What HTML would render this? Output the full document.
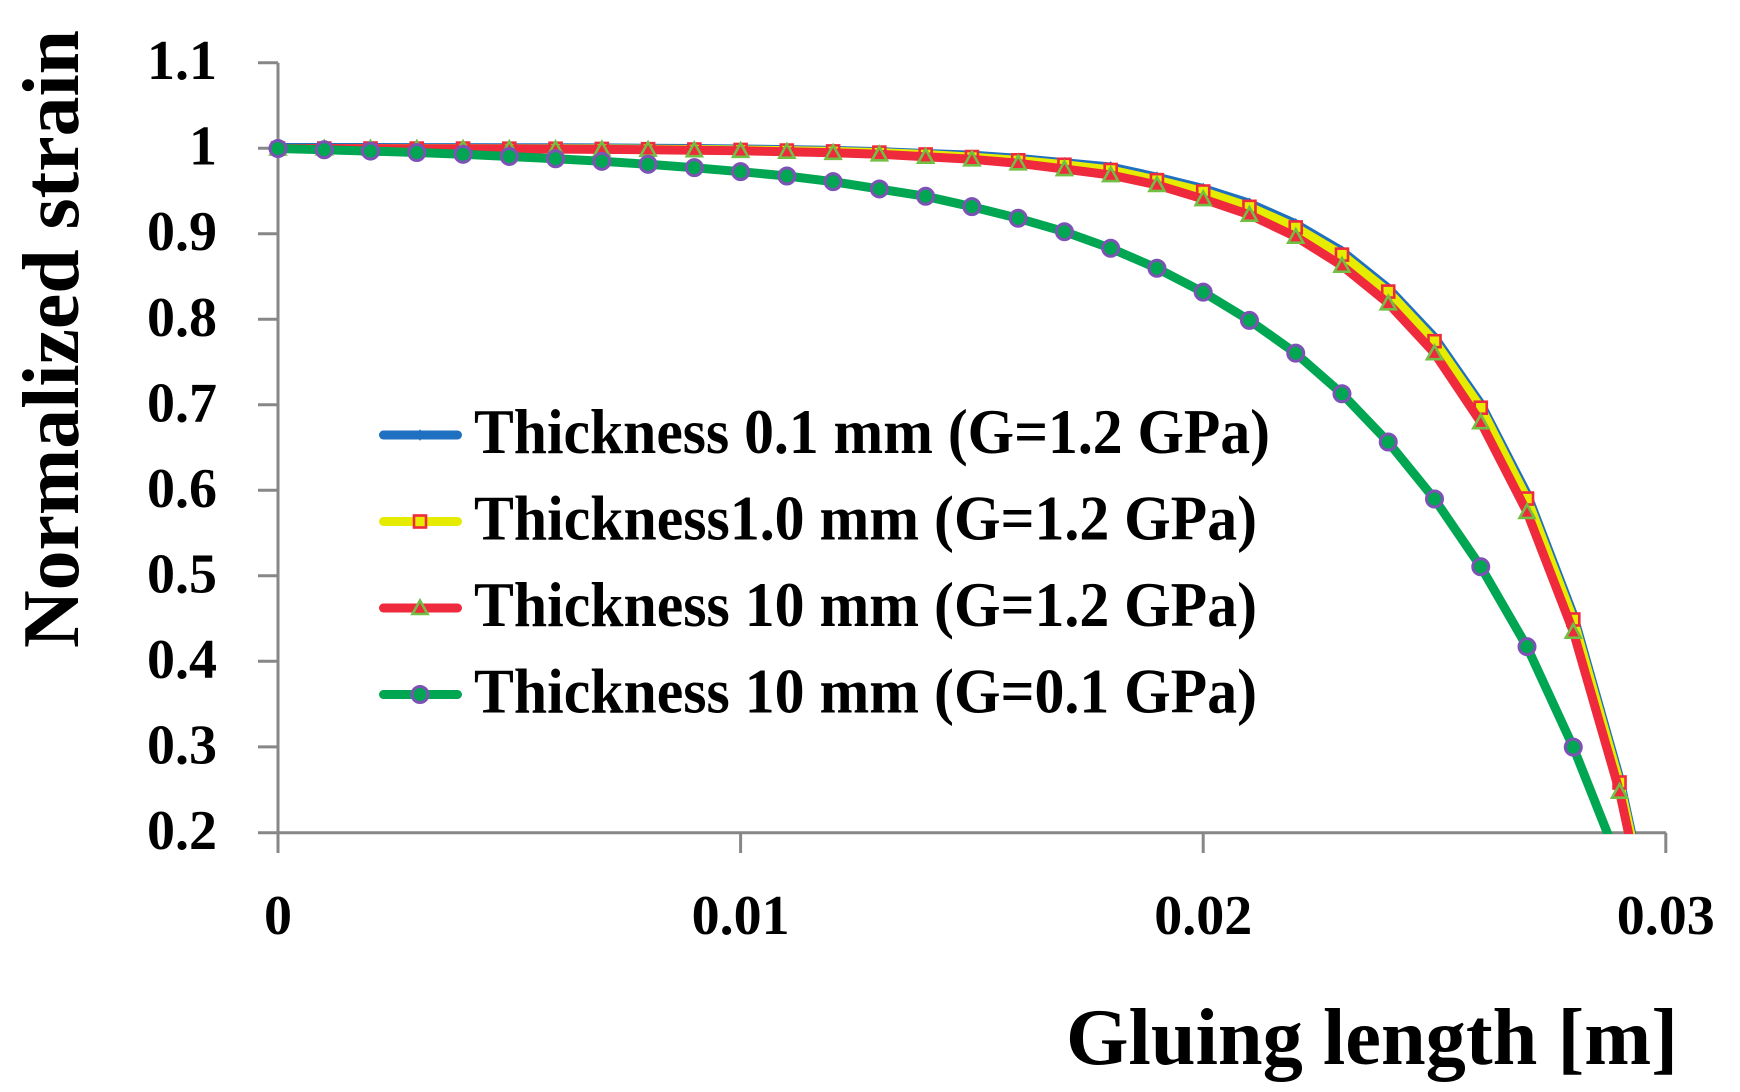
<!DOCTYPE html>
<html>
<head>
<meta charset="utf-8">
<style>
  html,body{margin:0;padding:0;background:#fff;}
  svg{display:block;}
  text{font-family:"Liberation Serif","DejaVu Serif",serif;font-weight:bold;fill:#000;}
</style>
</head>
<body>
<svg id="chart" width="1740" height="1092" viewBox="0 0 1740 1092" xmlns="http://www.w3.org/2000/svg">
  <rect x="0" y="0" width="1740" height="1092" fill="#fff"/>
  <defs>
    <clipPath id="plotclip"><rect x="0" y="0" width="1740" height="834"/></clipPath>
  </defs>

  <!-- axes -->
  <g stroke="#878787" stroke-width="3" fill="none">
    <line x1="278" y1="62.7" x2="278" y2="853"/>
    <line x1="258" y1="832.7" x2="1666" y2="832.7"/>
    <line x1="258" y1="62.7" x2="278" y2="62.7"/>
    <line x1="258" y1="148.2" x2="278" y2="148.2"/>
    <line x1="258" y1="233.7" x2="278" y2="233.7"/>
    <line x1="258" y1="319.3" x2="278" y2="319.3"/>
    <line x1="258" y1="404.8" x2="278" y2="404.8"/>
    <line x1="258" y1="490.3" x2="278" y2="490.3"/>
    <line x1="258" y1="575.8" x2="278" y2="575.8"/>
    <line x1="258" y1="661.3" x2="278" y2="661.3"/>
    <line x1="258" y1="746.9" x2="278" y2="746.9"/>
    <line x1="740.6" y1="832.7" x2="740.6" y2="853"/>
    <line x1="1203.2" y1="832.7" x2="1203.2" y2="853"/>
    <line x1="1665.8" y1="832.7" x2="1665.8" y2="853"/>
  </g>

  <!-- y tick labels -->
  <g font-size="56" text-anchor="end">
    <text x="217" y="79.2">1.1</text>
    <text x="217" y="164.7">1</text>
    <text x="217" y="250.2">0.9</text>
    <text x="217" y="335.8">0.8</text>
    <text x="217" y="421.3">0.7</text>
    <text x="217" y="506.8">0.6</text>
    <text x="217" y="592.3">0.5</text>
    <text x="217" y="677.8">0.4</text>
    <text x="217" y="763.4">0.3</text>
    <text x="217" y="848.9">0.2</text>
  </g>

  <!-- x tick labels -->
  <g font-size="56" text-anchor="middle">
    <text x="278" y="934">0</text>
    <text x="740.6" y="934">0.01</text>
    <text x="1203.2" y="934">0.02</text>
    <text x="1665.8" y="934">0.03</text>
  </g>

  <!-- axis titles -->
  <text x="1066" y="1064" font-size="80" textLength="612" lengthAdjust="spacingAndGlyphs">Gluing length [m]</text>
  <text transform="translate(78,648) rotate(-90)" x="0" y="0" font-size="80" textLength="618" lengthAdjust="spacingAndGlyphs">Normalized strain</text>

  <!-- series -->
  <g id="series" clip-path="url(#plotclip)"></g>

  <!-- legend -->
  <g id="legend">
    <text x="474" y="453" font-size="63" textLength="796" lengthAdjust="spacingAndGlyphs">Thickness 0.1 mm (G=1.2 GPa)</text>
    <text x="474" y="539.5" font-size="63" textLength="783" lengthAdjust="spacingAndGlyphs">Thickness1.0 mm (G=1.2 GPa)</text>
    <text x="474" y="626" font-size="63" textLength="783" lengthAdjust="spacingAndGlyphs">Thickness 10 mm (G=1.2 GPa)</text>
    <text x="474" y="712.5" font-size="63" textLength="783" lengthAdjust="spacingAndGlyphs">Thickness 10 mm (G=0.1 GPa)</text>
  </g>
</svg>

<script>
(function(){
  var NS = "http://www.w3.org/2000/svg";
  var X0 = 278, DX = 46.26;
  function Y(v){ return 832.7 - (v - 0.2) * 855.25; }

  var green = [1.0,0.9985,0.997,0.9953,0.9932,0.9907,0.988,0.985,0.9815,0.9776,0.9729,0.9678,0.9612,0.9527,0.9441,0.932,0.9184,0.9027,0.8833,0.860,0.832,0.799,0.7607,0.7132,0.6568,0.5902,0.5109,0.4175,0.30,0.164,0.0];
  var red = [1.0,1.0,0.9999,0.9998,0.9997,0.9995,0.9993,0.999,0.9986,0.998,0.9973,0.9963,0.995,0.9932,0.9904,0.9874,0.9827,0.976,0.969,0.9574,0.9409,0.9226,0.8969,0.863,0.819,0.7607,0.680,0.575,0.435,0.248,0.0];
  var yellow = [1.0,1.0,1.0,0.9999,0.9999,0.9998,0.9997,0.9995,0.9992,0.9988,0.9983,0.9976,0.9966,0.9952,0.993,0.990,0.9862,0.981,0.9749,0.963,0.9497,0.9318,0.9077,0.8759,0.8327,0.7747,0.6969,0.5907,0.4493,0.2587,0.01];
  var boff = [1,1,1,1,1,1,1,1,1,1,1,1,1,1,1,2,2,2,3,3,3,3.5,3.5,3.5,3.5,4,4,5,5,5,5];

  function pts(vals, off){
    var p = [];
    for (var i=0;i<vals.length;i++){
      p.push([X0 + i*DX, Y(vals[i]) - (off ? off[i] : 0)]);
    }
    return p;
  }
  var G = document.getElementById("series");
  var L = document.getElementById("legend");

  function el(tag, attrs, parent){
    var e = document.createElementNS(NS, tag);
    for (var k in attrs) e.setAttribute(k, attrs[k]);
    (parent||G).appendChild(e);
    return e;
  }
  function line(p, color){
    el("polyline", {points: p.map(function(q){return q[0].toFixed(1)+","+q[1].toFixed(1);}).join(" "),
      fill:"none", stroke:color, "stroke-width":"9", "stroke-linejoin":"round", "stroke-linecap":"butt"});
  }
  function diamond(x,y,parent){
    el("polygon",{points:(x)+","+(y-5)+" "+(x+4)+","+y+" "+x+","+(y+5)+" "+(x-4)+","+y,
      fill:"#1F70C1", stroke:"#1F70C1", "stroke-width":"1"}, parent);
  }
  function square(x,y,parent){
    el("rect",{x:x-6,y:y-6,width:12,height:12,fill:"#E6EC00",stroke:"#EE2A3C","stroke-width":"2.6"}, parent);
  }
  function tri(x,y,parent){
    el("polygon",{points:x+","+(y-7.5)+" "+(x+7.5)+","+(y+6)+" "+(x-7.5)+","+(y+6),
      fill:"#EE2A3C",stroke:"#72BF44","stroke-width":"2.6","stroke-linejoin":"miter"}, parent);
  }
  function circ(x,y,parent){
    el("circle",{cx:x,cy:y,r:8,fill:"#00A651",stroke:"#7D52B5","stroke-width":"3"}, parent);
  }

  var series = [
    {p: pts(yellow, boff), c:"#1F70C1", m:diamond},
    {p: pts(yellow), c:"#E6EC00", m:square},
    {p: pts(red), c:"#EE2A3C", m:tri},
    {p: pts(green), c:"#00A651", m:circ}
  ];
  series.forEach(function(s){
    line(s.p, s.c);
    for (var i=0;i<s.p.length-1;i++) s.m(s.p[i][0], s.p[i][1]);
  });

  // legend lines & markers
  var rows = [435, 521.5, 608, 694.5];
  series.forEach(function(s, i){
    var y = rows[i];
    el("line",{x1:383.5,y1:y,x2:457.5,y2:y,stroke:s.c,"stroke-width":"9","stroke-linecap":"round"}, L);
    s.m(420, y, L);
  });
})();
</script>
</body>
</html>
